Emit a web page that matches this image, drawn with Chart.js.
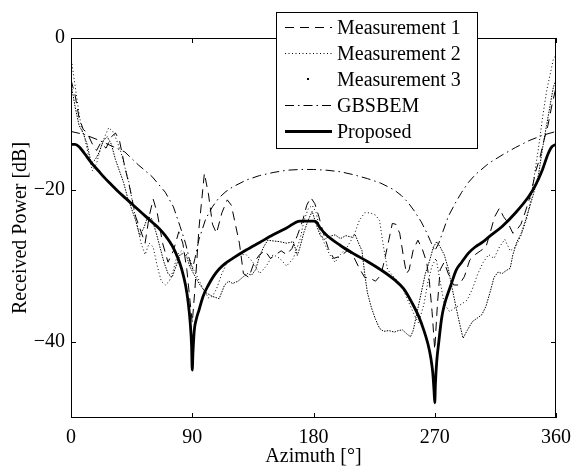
<!DOCTYPE html>
<html>
<head>
<meta charset="utf-8">
<script src="https://cdn.jsdelivr.net/npm/chart.js@4.4.0/dist/chart.umd.min.js"></script>
<style>
html, body { margin: 0; padding: 0; background: #fff; }
</style>
</head>
<body>
<canvas id="chart" width="571" height="466"></canvas>
<script>
// azimuth ticks and dB ticks
const X_TICKS = [0, 90, 180, 270, 360];
const Y_TICKS = [-40, -20, 0];

const SERIES_NAMES = ['Measurement 1', 'Measurement 2', 'Measurement 3', 'GBSBEM', 'Proposed'];

// Measurement 1 (dashed)
const M1_ANGLE = [0,3,6,9,12,16,19,22,26,30,33,36,40,44,48,52,55,58,61,64,68,72,76,80,83,86,88,90,92,95,99,102,105,108,112,116,119,122,125,128,132,136,140,144,148,152,156,160,164,168,172,175,178,181,184,187,191,195,200,205,209,214,218,222,226,230,233,236,238.5,241,244,247,249,251,254,257.5,261,264,266,268,270,272,274,277,280,284,288,292,296,300,304,308,311,314.5,318,321,324,328,331,334,337,340,342,345,348,351,354,357,360];
const M1_DB = [-5.5,-7.5,-10.5,-12,-12.5,-14,-14.8,-13.8,-14.5,-13,-12.5,-13.5,-17,-20,-23.5,-25.5,-27,-23.5,-21.2,-23,-27,-29.5,-28,-25.5,-27,-30.5,-34,-37.5,-33,-25,-17.8,-20.5,-24.5,-25.7,-23,-21.3,-22,-24.5,-27,-31,-31.5,-29.5,-28.5,-28,-29,-28.5,-28,-28.5,-27.7,-26,-24,-22,-21,-21.8,-23.5,-25.5,-27.7,-29,-28.7,-28,-28.5,-30.3,-31.5,-31.6,-32,-31.2,-29,-26.5,-24.4,-24.5,-25.7,-29,-31,-30.5,-27.9,-26.6,-27.9,-29.5,-32,-36,-41,-35,-30.5,-29.5,-31,-32.5,-32.5,-31.4,-29.2,-28.5,-28,-27.5,-25.7,-23.5,-22.4,-23.5,-24.2,-25.7,-25.2,-24.5,-23,-21.3,-20,-17.5,-15.8,-13.5,-11.5,-8.8,-6.5];

// Measurement 2 (dotted)
const M2_ANGLE = [0,2,4,6,8,10,13,16,19,22,25,28,31,34,37,40,43,46,49,52,55,58,61,64,67,70,73,76,79,82,85,88,91,94,98,102,105,108,112,116,120,125,130,135,140,145,150,155,160,165,170,173,176,179,182,185,188,192,196,200,205,210,214,218,222,226,229,232,235,240,245,250,255,258,262,265,268,271,274,277,281,285,290,294,298,302,306,310,314,318,322,326,330,334,338,341,344,347,350,353,356,358,360];
const M2_DB = [-2.5,-5,-7.5,-10,-12,-13,-15.5,-17.5,-16.5,-14.5,-13,-11.8,-12.3,-13.5,-15,-17,-19,-22,-24.5,-27,-28.5,-27,-27.5,-30,-32,-32.5,-32,-30.5,-28.5,-28,-28.3,-29,-30.5,-31.5,-33,-34.2,-34,-33,-31,-29.5,-29,-28.5,-28.5,-29.5,-31,-30,-28.5,-29,-30,-29,-26.5,-24,-22.5,-22,-23,-25.5,-27,-28.5,-29.5,-28.5,-27.5,-26,-24,-23,-23,-23.3,-24,-27.5,-30.5,-31.5,-32.5,-34.5,-36.5,-37.5,-35,-32,-30,-29,-32,-35,-36,-35.5,-35,-34.5,-33,-31,-29.5,-28.5,-29,-27.5,-26.5,-28,-27.5,-26,-24,-21.5,-18,-14.5,-10.5,-7,-4.5,-2.8,-2.2];

// Measurement 3 (dots)
const M3_ANGLE = [0,3,6,9,12,15,18,21,24,27,30,33,36,39,42,45,48,51,54,57,60,63,66,69,72,75,78,81,84,86,88,91,95,100,105,110,114,117,120,124,128,131,134,137,140,143,146,150,155,160,165,168,170,173,176,179,182,185,188,192,196,200,204,208,211,213,216,218,220,223,226,229,232,236,240,243,246,249,252,254,257,260,263,266,269,271.5,274,277,280,283,286,289,291,294,298,302,305,308,311,314,317,320,323,326,328,331,334,337,340,343,347,350,353,356,358,360];
const M3_DB = [-6,-9,-11.5,-12.5,-14,-16.5,-16,-15,-13.5,-13,-14,-16,-17.5,-19,-21,-22.5,-24,-26,-25,-23.5,-23.8,-25.5,-27.5,-29.5,-31,-31.5,-30,-28.5,-28.3,-28.8,-30,-31,-32.3,-33.5,-34,-34.3,-32.5,-32,-32.3,-32,-31.4,-31,-31.2,-30.5,-28.7,-27.5,-26.6,-26.7,-26.8,-27,-26.8,-28.6,-27.5,-25.5,-24,-22.8,-24.5,-26,-26.5,-26.1,-25.9,-26.4,-26,-26.2,-25.9,-26.8,-28,-31,-33.5,-35.5,-37,-38.2,-38.6,-38.5,-38.7,-38.5,-38.4,-38.9,-39.3,-38.5,-36,-33.5,-31,-29.4,-27.5,-26.8,-27.5,-28.5,-30.3,-33,-35.6,-38,-39.5,-38.5,-37.3,-36.8,-36.4,-35.3,-33.5,-31.5,-30.8,-31,-30.6,-30.3,-28.5,-26.8,-25.8,-24.2,-22.5,-20.7,-18,-14.5,-11.5,-8.5,-6.5,-5.5];

// GBSBEM (dash-dot)
const GB_ANGLE = [0,10,20,30,40,50,60,70,76,81,85,88,90,92,95,100,105,110,115,120,130,140,150,160,170,180,190,200,210,220,230,240,245,250,255,260,264,267,270,273,276,280,285,290,295,300,310,320,330,340,350,360];
const GB_DB = [-12.3,-12.7,-13.4,-14.2,-15,-16.7,-18.2,-20.3,-22.2,-24.8,-27,-29.2,-30.5,-29,-26.5,-23.8,-22.2,-21,-20.2,-19.6,-18.7,-18.1,-17.7,-17.4,-17.3,-17.3,-17.4,-17.6,-18,-18.5,-19.1,-20,-20.7,-21.6,-22.8,-24.2,-25.6,-26.8,-28,-27,-25.5,-23.5,-21.8,-20.3,-19,-18,-16.5,-15.4,-14.4,-13.5,-12.8,-12.3];

// Proposed (thick solid)
const PR_ANGLE = [0,3,6,10,15,20,25,30,35,40,45,50,55,60,65,70,75,79,82,85,87,88.5,89.5,90,90.5,91.5,93,95,98,102,106,110,115,120,130,140,150,160,170,175,180,182,185,190,200,210,220,230,240,247,253,258,262,265,267,268.5,269.5,270,270.5,271.5,273,275,277,282,286,290,295,300,306,310,320,330,340,345,350,354,357,360];
const PR_DB = [-14,-14,-14.3,-15.2,-16.4,-17.4,-18.4,-19.3,-20.2,-21,-21.8,-22.6,-23.4,-24.2,-25,-26,-27.3,-28.8,-30.3,-32.5,-34.8,-37.5,-40.5,-43.7,-41.5,-38.5,-37,-35.8,-34,-32.5,-31.3,-30.4,-29.6,-29,-27.9,-26.9,-25.9,-25,-24.1,-24.1,-24.1,-24.2,-25,-26,-27.3,-28.4,-29.4,-30.5,-31.8,-33,-34.8,-36.6,-38.5,-40.3,-42,-44,-46.5,-48,-45.5,-42.5,-40,-37,-35.2,-32.5,-30.5,-29.5,-28.3,-27.5,-26.8,-26.2,-24.8,-23,-20.8,-19.3,-17.3,-15.3,-14.3,-14];

const FONT = 'Liberation Serif, Times New Roman, serif';

function toPoints(ang, db) {
    return ang.map((a, i) => ({ x: a, y: db[i] }));
}

const styles = [
    { dash: [9, 6], width: 1 },
    { dash: [1, 2.5], width: 1 },
    { dash: [1.5, 1.2], width: 1 },
    { dash: [9, 4, 1.5, 4], width: 1 },
    { dash: [], width: 2.8 }
];
const allData = [
    toPoints(M1_ANGLE, M1_DB),
    toPoints(M2_ANGLE, M2_DB),
    toPoints(M3_ANGLE, M3_DB),
    toPoints(GB_ANGLE, GB_DB),
    toPoints(PR_ANGLE, PR_DB)
];

const datasets = SERIES_NAMES.map((name, i) => ({
    label: name,
    data: allData[i],
    borderColor: '#000',
    borderWidth: styles[i].width,
    borderDash: styles[i].dash,
    pointRadius: 0,
    fill: false,
    tension: 0,
    cubicInterpolationMode: i === 4 ? 'monotone' : 'default'
}));

// box around the axes with inward tick marks (matlab look)
const framePlugin = {
    id: 'frame',
    afterDatasetsDraw(chart) {
        const { ctx, chartArea: a, scales } = chart;
        ctx.save();
        ctx.strokeStyle = '#000';
        ctx.lineWidth = 1;
        ctx.setLineDash([]);
        ctx.strokeRect(Math.round(a.left) + 0.5, Math.round(a.top) + 0.5,
            Math.round(a.right - a.left) - 1, Math.round(a.bottom - a.top) - 1);
        ctx.beginPath();
        scales.x.ticks.forEach(t => {
            const px = Math.round(scales.x.getPixelForValue(t.value)) + 0.5;
            ctx.moveTo(px, a.bottom); ctx.lineTo(px, a.bottom - 5);
            ctx.moveTo(px, a.top); ctx.lineTo(px, a.top + 5);
        });
        scales.y.ticks.forEach(t => {
            const py = Math.round(scales.y.getPixelForValue(t.value)) + 0.5;
            ctx.moveTo(a.left, py); ctx.lineTo(a.left + 5, py);
            ctx.moveTo(a.right, py); ctx.lineTo(a.right - 5, py);
        });
        ctx.stroke();
        ctx.restore();
    }
};

// legend box in the upper middle, overlapping the axes top
const legendPlugin = {
    id: 'boxLegend',
    afterDraw(chart) {
        const ctx = chart.ctx;
        const bx = 276, by = 12, bw = 201, bh = 136;
        ctx.save();
        ctx.fillStyle = '#fff';
        ctx.fillRect(bx, by, bw, bh);
        ctx.strokeStyle = '#000';
        ctx.lineWidth = 1;
        ctx.strokeRect(bx + 0.5, by + 0.5, bw, bh);
        ctx.font = '20px ' + FONT;
        ctx.textBaseline = 'middle';
        ctx.fillStyle = '#000';
        chart.data.datasets.forEach((ds, i) => {
            const y = by + 15 + i * 26;
            ctx.beginPath();
            if (i === 2) {
                ctx.setLineDash([]);
                ctx.fillRect(307, y - 1, 2, 2);
            } else {
                ctx.setLineDash(ds.borderDash);
                ctx.lineWidth = ds.borderWidth;
                ctx.moveTo(285, y + 0.5);
                ctx.lineTo(332, y + 0.5);
                ctx.stroke();
            }
            ctx.fillText(ds.label, 337, y + 2);
        });
        ctx.restore();
    }
};

new Chart(document.getElementById('chart'), {
    type: 'line',
    data: { datasets: datasets },
    options: {
        responsive: false,
        animation: false,
        layout: { padding: { left: 0, right: 15, top: 38, bottom: 0 } },
        plugins: { legend: { display: false }, tooltip: { enabled: false } },
        scales: {
            x: {
                type: 'linear',
                min: 0,
                max: 360,
                afterBuildTicks: s => { s.ticks = X_TICKS.map(v => ({ value: v })); },
                afterFit: s => { s.height = 48; s.paddingLeft = 0; s.paddingRight = 0; },
                grid: { display: false, drawTicks: false },
                border: { display: false },
                ticks: { color: '#000', font: { family: FONT, size: 20 }, padding: 8, maxRotation: 0, autoSkip: false },
                title: { display: true, text: 'Azimuth [°]', color: '#000', font: { family: FONT, size: 20 }, padding: { top: 0, bottom: -3 } }
            },
            y: {
                type: 'linear',
                min: -50,
                max: 0,
                afterBuildTicks: s => { s.ticks = Y_TICKS.map(v => ({ value: v })); },
                afterFit: s => { s.width = 71; s.paddingTop = 0; s.paddingBottom = 0; },
                grid: { display: false, drawTicks: false },
                border: { display: false },
                ticks: {
                    color: '#000', font: { family: FONT, size: 20 }, padding: 6, autoSkip: false,
                    callback: v => v < 0 ? '\u2212' + Math.abs(v) : String(v)
                },
                title: { display: true, text: 'Received Power [dB]', color: '#000', font: { family: FONT, size: 20 }, padding: { top: 9, bottom: 0 } }
            }
        }
    },
    plugins: [framePlugin, legendPlugin]
});
</script>
</body>
</html>
